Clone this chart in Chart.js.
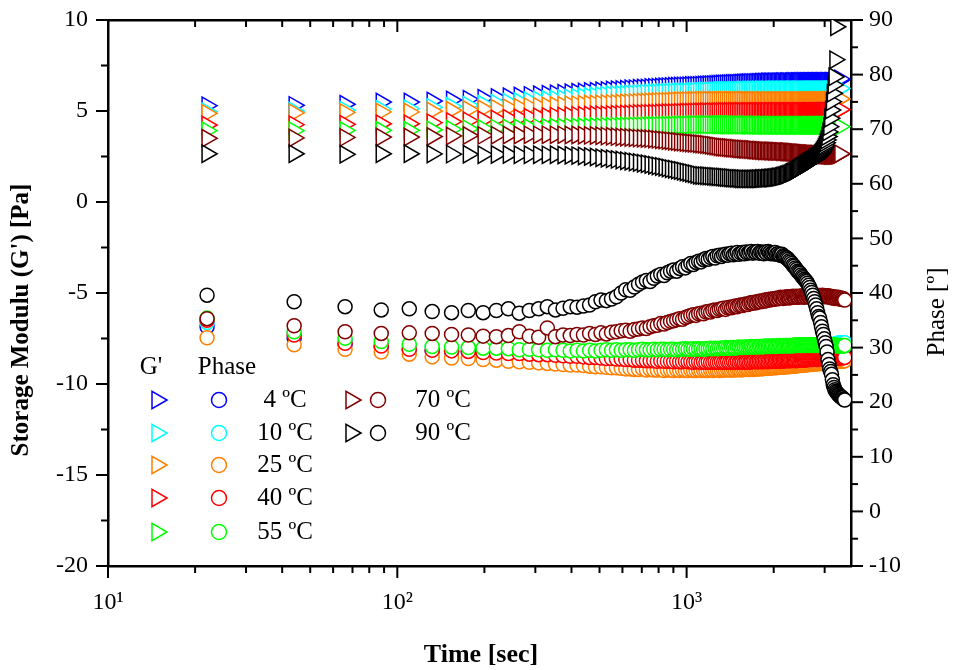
<!DOCTYPE html>
<html>
<head>
<meta charset="utf-8">
<script src="https://cdn.jsdelivr.net/npm/chart.js@4.4.1/dist/chart.umd.min.js"></script>
<style>
  html, body { margin: 0; padding: 0; background: #fff; }
  #wrap { width: 953px; height: 670px; }
</style>
</head>
<body>
<div id="wrap"><canvas id="c" width="953" height="670"></canvas></div>
<script>
// time of each measurement [sec]
var times = [22,44,66,88,110,132,154,176,198,220,
  242,264,286,308,330,352,374,396,418,440,
  462,484,506,528,550,572,594,616,638,660,
  682,704,726,748,770,792,814,836,858,880,
  902,924,946,968,990,1012,1034,1056,1078,1100,
  1122,1144,1166,1188,1210,1232,1254,1276,1298,1320,
  1342,1364,1386,1408,1430,1452,1474,1496,1518,1540,
  1562,1584,1606,1628,1650,1672,1694,1716,1738,1760,
  1782,1804,1826,1848,1870,1892,1914,1936,1958,1980,
  2002,2024,2046,2068,2090,2112,2134,2156,2178,2200,
  2222,2244,2266,2288,2310,2332,2354,2376,2398,2420,
  2442,2464,2486,2508,2530,2552,2574,2596,2618,2640,
  2662,2684,2706,2728,2750,2772,2794,2816,2838,2860,
  2882,2904,2926,2948,2970,2992,3014,3036,3058,3080,
  3102,3124,3146,3168,3190,3212,3234,3256,3278,3300,
  3322,3344,3366,3388,3410,3432,3454,3476,3498,3520];

var temps = ['4 ºC', '10 ºC', '25 ºC', '40 ºC', '55 ºC', '70 ºC', '90 ºC'];
var colors = ['#0000ff', '#00ffff', '#ff8000', '#ff0000', '#00ff00', '#800000', '#000000'];

// storage modulus G' [Pa]
var g4 = [5.29,5.31,5.37,5.49,5.49,5.55,5.60,5.65,5.70,5.74,
  5.78,5.82,5.86,5.89,5.92,5.95,5.98,6.00,6.03,6.05,
  6.07,6.09,6.11,6.13,6.15,6.17,6.18,6.20,6.22,6.23,
  6.25,6.26,6.27,6.29,6.30,6.31,6.32,6.33,6.34,6.35,
  6.36,6.36,6.37,6.38,6.38,6.39,6.40,6.40,6.41,6.41,
  6.42,6.43,6.43,6.44,6.45,6.45,6.46,6.47,6.47,6.48,
  6.49,6.49,6.50,6.50,6.51,6.51,6.52,6.52,6.53,6.53,
  6.54,6.54,6.55,6.55,6.55,6.56,6.56,6.56,6.57,6.57,
  6.57,6.58,6.58,6.58,6.58,6.59,6.59,6.59,6.59,6.60,
  6.60,6.60,6.60,6.60,6.61,6.60,6.61,6.61,6.60,6.61,
  6.61,6.61,6.60,6.61,6.61,6.62,6.61,6.61,6.62,6.61,
  6.61,6.62,6.61,6.62,6.62,6.61,6.62,6.62,6.61,6.62,
  6.62,6.62,6.61,6.62,6.62,6.62,6.61,6.62,6.62,6.62,
  6.61,6.62,6.62,6.62,6.62,6.61,6.62,6.62,6.62,6.62,
  6.61,6.62,6.62,6.62,6.62,6.61,6.62,6.63,6.62,6.63,
  6.64,6.66,6.70,6.76];
var g10 = [4.96,5.00,5.05,5.10,5.13,5.20,5.26,5.32,5.38,5.43,
  5.48,5.52,5.56,5.60,5.63,5.66,5.69,5.72,5.75,5.78,
  5.80,5.83,5.85,5.87,5.89,5.90,5.91,5.92,5.93,5.94,
  5.95,5.96,5.97,5.98,5.99,6.00,6.00,6.01,6.02,6.02,
  6.03,6.03,6.04,6.04,6.05,6.05,6.06,6.06,6.07,6.08,
  6.08,6.08,6.09,6.09,6.09,6.10,6.10,6.10,6.11,6.11,
  6.11,6.12,6.12,6.12,6.12,6.13,6.13,6.13,6.13,6.13,
  6.14,6.14,6.13,6.14,6.14,6.14,6.15,6.14,6.14,6.15,
  6.14,6.15,6.15,6.14,6.15,6.15,6.15,6.14,6.15,6.15,
  6.15,6.16,6.15,6.15,6.15,6.16,6.15,6.15,6.16,6.15,
  6.16,6.15,6.16,6.16,6.15,6.16,6.16,6.15,6.16,6.16,
  6.16,6.15,6.16,6.16,6.16,6.15,6.16,6.16,6.16,6.16,
  6.15,6.16,6.16,6.16,6.16,6.15,6.16,6.16,6.16,6.16,
  6.16,6.16,6.15,6.16,6.16,6.16,6.16,6.16,6.15,6.16,
  6.16,6.16,6.16,6.16,6.17,6.16,6.16,6.17,6.17,6.17,
  6.18,6.19,6.21,6.24];
var g25 = [4.87,4.90,4.92,4.95,4.95,5.00,5.04,5.08,5.12,5.15,
  5.18,5.21,5.24,5.26,5.28,5.30,5.32,5.34,5.35,5.37,
  5.38,5.39,5.40,5.41,5.42,5.43,5.44,5.45,5.46,5.47,
  5.48,5.49,5.50,5.51,5.51,5.52,5.53,5.53,5.54,5.54,
  5.55,5.55,5.56,5.56,5.57,5.57,5.57,5.58,5.58,5.58,
  5.58,5.59,5.58,5.59,5.58,5.59,5.59,5.58,5.59,5.58,
  5.59,5.58,5.58,5.59,5.58,5.58,5.59,5.58,5.58,5.58,
  5.59,5.58,5.58,5.57,5.58,5.58,5.57,5.58,5.57,5.58,
  5.57,5.57,5.58,5.57,5.57,5.57,5.58,5.57,5.57,5.57,
  5.57,5.56,5.57,5.57,5.57,5.56,5.57,5.57,5.56,5.57,
  5.57,5.56,5.57,5.56,5.57,5.57,5.56,5.57,5.56,5.57,
  5.57,5.56,5.57,5.57,5.56,5.57,5.57,5.56,5.57,5.57,
  5.56,5.57,5.57,5.57,5.56,5.57,5.57,5.57,5.56,5.57,
  5.57,5.57,5.57,5.56,5.57,5.57,5.57,5.57,5.57,5.58,
  5.57,5.58,5.58,5.57,5.58,5.58,5.58,5.59,5.59,5.60,
  5.61,5.62,5.64,5.67];
var g40 = [4.23,4.25,4.27,4.30,4.30,4.36,4.42,4.47,4.52,4.56,
  4.60,4.63,4.66,4.68,4.70,4.72,4.73,4.75,4.76,4.77,
  4.78,4.79,4.80,4.80,4.81,4.82,4.83,4.84,4.84,4.85,
  4.86,4.86,4.87,4.87,4.88,4.88,4.89,4.89,4.90,4.90,
  4.91,4.91,4.92,4.92,4.93,4.93,4.93,4.94,4.94,4.95,
  4.95,4.95,4.96,4.95,4.96,4.96,4.95,4.96,4.96,4.96,
  4.97,4.96,4.96,4.97,4.96,4.97,4.97,4.96,4.97,4.97,
  4.97,4.96,4.97,4.97,4.97,4.96,4.97,4.97,4.97,4.96,
  4.97,4.97,4.96,4.97,4.97,4.97,4.96,4.97,4.97,4.96,
  4.97,4.97,4.97,4.96,4.97,4.97,4.96,4.97,4.97,4.97,
  4.96,4.97,4.97,4.97,4.96,4.97,4.97,4.96,4.97,4.97,
  4.97,4.97,4.96,4.97,4.97,4.97,4.97,4.96,4.97,4.97,
  4.97,4.97,4.97,4.96,4.97,4.97,4.97,4.97,4.98,4.97,
  4.97,4.98,4.97,4.98,4.98,4.97,4.98,4.98,4.98,4.98,
  4.98,4.98,4.99,4.98,4.99,4.99,4.99,5.00,5.00,5.01,
  5.02,5.03,5.05,5.08];
var g55 = [3.92,3.92,3.93,3.94,3.94,3.97,4.00,4.02,4.04,4.06,
  4.07,4.08,4.09,4.10,4.11,4.12,4.12,4.13,4.13,4.14,
  4.14,4.15,4.15,4.16,4.16,4.17,4.17,4.18,4.18,4.19,
  4.19,4.19,4.20,4.20,4.20,4.21,4.21,4.21,4.22,4.22,
  4.22,4.22,4.23,4.23,4.23,4.23,4.24,4.24,4.24,4.25,
  4.24,4.25,4.24,4.25,4.24,4.24,4.25,4.24,4.24,4.25,
  4.24,4.24,4.23,4.24,4.24,4.23,4.24,4.23,4.24,4.23,
  4.23,4.24,4.23,4.23,4.22,4.23,4.23,4.22,4.23,4.22,
  4.22,4.23,4.22,4.22,4.22,4.21,4.22,4.22,4.21,4.22,
  4.21,4.22,4.21,4.21,4.22,4.21,4.21,4.21,4.22,4.21,
  4.21,4.21,4.22,4.21,4.21,4.21,4.21,4.22,4.21,4.21,
  4.21,4.21,4.21,4.22,4.21,4.21,4.21,4.21,4.21,4.22,
  4.21,4.21,4.21,4.21,4.21,4.22,4.21,4.21,4.21,4.21,
  4.21,4.21,4.22,4.21,4.21,4.21,4.21,4.21,4.21,4.21,
  4.21,4.21,4.21,4.20,4.21,4.20,4.20,4.19,4.19,4.18,
  4.17,4.16,4.15,4.14];
var g70 = [3.50,3.52,3.55,3.57,3.57,3.60,3.63,3.65,3.66,3.67,
  3.68,3.68,3.69,3.69,3.69,3.69,3.69,3.68,3.68,3.67,
  3.66,3.65,3.64,3.62,3.61,3.59,3.57,3.56,3.54,3.53,
  3.51,3.50,3.49,3.48,3.46,3.44,3.42,3.40,3.38,3.36,
  3.34,3.32,3.30,3.29,3.27,3.26,3.24,3.23,3.22,3.20,
  3.19,3.17,3.16,3.14,3.12,3.10,3.08,3.06,3.04,3.02,
  3.01,3.00,2.99,2.98,2.97,2.96,2.95,2.94,2.93,2.92,
  2.91,2.90,2.90,2.89,2.88,2.88,2.87,2.86,2.85,2.84,
  2.84,2.83,2.83,2.82,2.82,2.81,2.81,2.80,2.80,2.80,
  2.79,2.79,2.79,2.78,2.78,2.78,2.77,2.77,2.77,2.76,
  2.76,2.75,2.75,2.74,2.74,2.73,2.72,2.72,2.71,2.70,
  2.70,2.69,2.69,2.68,2.68,2.67,2.67,2.66,2.66,2.65,
  2.65,2.64,2.64,2.63,2.63,2.62,2.62,2.62,2.61,2.61,
  2.61,2.60,2.60,2.60,2.59,2.59,2.59,2.58,2.58,2.58,
  2.58,2.57,2.57,2.57,2.57,2.57,2.57,2.57,2.58,2.58,
  2.59,2.60,2.62,2.65];
var g90 = [2.65,2.65,2.62,2.65,2.65,2.64,2.63,2.62,2.60,2.61,
  2.61,2.60,2.60,2.60,2.59,2.60,2.58,2.57,2.55,2.53,
  2.50,2.47,2.43,2.40,2.38,2.34,2.31,2.27,2.24,2.20,
  2.17,2.13,2.10,2.06,2.02,1.98,1.95,1.91,1.87,1.83,
  1.80,1.76,1.73,1.69,1.65,1.62,1.58,1.55,1.51,1.47,
  1.46,1.45,1.44,1.43,1.42,1.41,1.40,1.39,1.38,1.37,
  1.36,1.35,1.34,1.33,1.32,1.31,1.30,1.30,1.29,1.28,
  1.28,1.27,1.27,1.27,1.27,1.27,1.27,1.27,1.28,1.28,
  1.28,1.29,1.29,1.30,1.30,1.31,1.31,1.32,1.32,1.33,
  1.34,1.35,1.36,1.37,1.38,1.40,1.42,1.44,1.46,1.48,
  1.50,1.53,1.56,1.59,1.62,1.65,1.68,1.72,1.76,1.80,
  1.84,1.88,1.92,1.96,2.00,2.04,2.08,2.12,2.16,2.20,
  2.22,2.25,2.28,2.31,2.35,2.39,2.43,2.48,2.53,2.59,
  2.65,2.72,2.80,2.89,2.99,3.10,3.25,3.41,3.60,3.85,
  4.14,4.60,5.05,5.51,5.97,6.43,6.88,7.82,9.63];

// phase angle [deg]
var p4 = [33.8,31.7,30.6,30.1,29.6,29.4,29.3,29.2,29.0,28.9,
  28.8,28.8,28.7,28.6,28.6,28.5,28.4,28.3,28.3,28.2,
  28.1,28.1,28.0,27.9,27.9,27.8,27.8,27.7,27.7,27.6,
  27.6,27.6,27.5,27.5,27.5,27.4,27.5,27.4,27.4,27.4,
  27.3,27.4,27.3,27.3,27.4,27.3,27.3,27.2,27.3,27.3,
  27.2,27.3,27.2,27.3,27.2,27.2,27.3,27.2,27.2,27.3,
  27.2,27.2,27.3,27.2,27.2,27.3,27.2,27.3,27.2,27.3,
  27.3,27.2,27.3,27.3,27.2,27.3,27.3,27.4,27.3,27.3,
  27.4,27.3,27.4,27.3,27.4,27.4,27.3,27.4,27.4,27.5,
  27.4,27.4,27.5,27.4,27.5,27.5,27.4,27.5,27.5,27.6,
  27.5,27.5,27.6,27.5,27.6,27.6,27.6,27.5,27.6,27.7,
  27.6,27.6,27.7,27.6,27.7,27.7,27.6,27.7,27.7,27.8,
  27.7,27.7,27.8,27.7,27.8,27.8,27.8,27.7,27.8,27.9,
  27.8,27.8,27.9,27.8,27.9,27.9,27.8,27.9,27.9,28.0,
  27.9,27.9,28.0,27.9,28.0,28.0,27.9,28.0,28.0,28.1,
  28.0,28.0,28.1,28.0,28.1,28.1,28.0,28.1,28.1,28.1];
var p10 = [34.6,32.5,31.3,30.8,30.3,30.0,29.9,29.8,29.7,29.7,
  29.6,29.5,29.5,29.4,29.4,29.4,29.3,29.3,29.3,29.2,
  29.3,29.2,29.3,29.3,29.3,29.4,29.3,29.4,29.4,29.3,
  29.4,29.5,29.4,29.4,29.5,29.4,29.5,29.5,29.4,29.5,
  29.5,29.4,29.5,29.5,29.6,29.5,29.5,29.6,29.5,29.6,
  29.6,29.5,29.6,29.6,29.7,29.6,29.7,29.6,29.7,29.7,
  29.7,29.8,29.7,29.7,29.8,29.8,29.7,29.8,29.9,29.8,
  29.8,29.9,29.8,29.9,29.9,30.0,29.9,29.9,30.0,29.9,
  30.0,30.0,29.9,30.0,30.1,30.0,30.0,30.1,30.0,30.1,
  30.1,30.0,30.1,30.1,30.2,30.1,30.1,30.2,30.1,30.2,
  30.2,30.1,30.2,30.2,30.1,30.2,30.2,30.3,30.2,30.2,
  30.3,30.2,30.2,30.3,30.2,30.3,30.2,30.3,30.3,30.2,
  30.3,30.3,30.2,30.3,30.3,30.2,30.3,30.3,30.2,30.3,
  30.3,30.2,30.3,30.3,30.2,30.3,30.3,30.2,30.3,30.2,
  30.3,30.3,30.4,30.4,30.5,30.5,30.6,30.6,30.7,30.7,
  30.8,30.8,30.8,30.9,30.8,30.9,30.8,30.9,30.8,30.9];
var p25 = [31.8,30.5,29.7,29.2,28.8,28.3,28.1,28.0,27.8,27.7,
  27.5,27.4,27.3,27.2,27.1,27.0,26.9,26.8,26.8,26.7,
  26.6,26.5,26.5,26.4,26.3,26.3,26.2,26.1,26.1,26.0,
  26.0,26.1,25.9,26.0,25.9,25.9,26.0,25.8,25.9,25.9,
  25.8,25.9,25.8,25.9,25.8,25.8,25.9,25.8,25.8,25.9,
  25.8,25.9,25.8,25.8,25.9,25.8,25.9,25.9,25.8,25.9,
  25.9,25.9,26.0,25.9,25.9,26.0,25.9,26.0,26.0,25.9,
  26.0,26.0,26.1,26.0,26.0,26.1,26.0,26.1,26.1,26.1,
  26.1,26.2,26.1,26.2,26.2,26.2,26.3,26.2,26.3,26.3,
  26.3,26.4,26.3,26.4,26.4,26.4,26.5,26.4,26.5,26.5,
  26.5,26.6,26.5,26.6,26.6,26.6,26.7,26.6,26.7,26.7,
  26.7,26.8,26.7,26.8,26.8,26.8,26.9,26.8,26.9,26.9,
  26.9,27.0,26.9,27.0,27.0,27.0,27.1,27.0,27.1,27.1,
  27.1,27.1,27.2,27.1,27.2,27.2,27.2,27.3,27.2,27.3,
  27.3,27.3,27.3,27.4,27.3,27.4,27.4,27.4,27.4,27.5,
  27.4,27.5,27.5,27.5,27.5,27.6,27.5,27.6,27.6,27.6];
var p40 = [35.0,32.3,30.8,30.3,29.7,29.5,29.4,29.3,29.1,29.0,
  28.9,28.9,28.8,28.7,28.7,28.6,28.5,28.4,28.4,28.3,
  28.2,28.2,28.1,28.0,28.0,27.9,27.9,27.8,27.8,27.7,
  27.7,27.7,27.6,27.6,27.6,27.5,27.6,27.5,27.5,27.5,
  27.4,27.5,27.4,27.4,27.5,27.4,27.4,27.3,27.4,27.4,
  27.3,27.4,27.3,27.4,27.3,27.3,27.4,27.3,27.3,27.4,
  27.3,27.3,27.4,27.3,27.3,27.4,27.3,27.4,27.3,27.4,
  27.4,27.3,27.4,27.4,27.3,27.4,27.4,27.5,27.4,27.4,
  27.5,27.4,27.5,27.4,27.5,27.5,27.4,27.5,27.5,27.6,
  27.5,27.5,27.6,27.5,27.6,27.6,27.5,27.6,27.6,27.7,
  27.6,27.6,27.7,27.6,27.7,27.7,27.7,27.6,27.7,27.8,
  27.7,27.7,27.8,27.7,27.8,27.8,27.7,27.8,27.8,27.9,
  27.8,27.8,27.9,27.8,27.9,27.9,27.9,27.8,27.9,28.0,
  27.9,27.9,28.0,27.9,28.0,28.0,27.9,28.0,28.0,28.1,
  28.0,28.0,28.1,28.0,28.1,28.1,28.0,28.1,28.1,28.2,
  28.1,28.1,28.2,28.1,28.2,28.2,28.1,28.2,28.2,28.2];
var p55 = [35.4,32.9,31.7,31.1,30.6,30.2,30.1,30.0,29.9,29.9,
  29.8,29.6,29.7,29.6,29.5,29.6,29.5,29.4,29.5,29.4,
  29.5,29.4,29.5,29.6,29.5,29.6,29.5,29.6,29.6,29.5,
  29.6,29.7,29.6,29.6,29.7,29.6,29.7,29.7,29.6,29.7,
  29.7,29.6,29.7,29.7,29.8,29.7,29.7,29.8,29.7,29.8,
  29.8,29.7,29.8,29.8,29.9,29.8,29.9,29.8,29.9,29.9,
  29.9,30.0,29.9,29.9,30.0,30.0,29.9,30.0,30.1,30.0,
  30.0,30.1,30.0,30.1,30.1,30.2,30.1,30.1,30.2,30.1,
  30.2,30.2,30.1,30.2,30.3,30.2,30.2,30.3,30.2,30.3,
  30.3,30.2,30.3,30.3,30.4,30.3,30.3,30.4,30.3,30.4,
  30.4,30.3,30.4,30.4,30.3,30.4,30.4,30.5,30.4,30.4,
  30.5,30.4,30.4,30.5,30.4,30.5,30.4,30.5,30.5,30.4,
  30.5,30.5,30.4,30.5,30.5,30.4,30.5,30.5,30.4,30.5,
  30.5,30.4,30.5,30.5,30.4,30.5,30.5,30.4,30.5,30.4,
  30.5,30.4,30.4,30.5,30.4,30.4,30.5,30.4,30.4,30.4,
  30.4,30.3,30.4,30.4,30.3,30.4,30.3,30.4,30.3,30.4];
var p70 = [35.3,34.0,32.9,32.6,32.7,32.6,32.4,32.3,32.1,32.0,
  32.2,32.9,32.1,31.9,33.6,32.0,32.3,32.2,32.4,32.3,
  32.6,32.4,32.7,32.5,32.8,32.9,33.1,33.2,33.0,33.3,
  33.4,33.6,33.5,33.8,34.0,34.1,34.4,34.3,34.6,34.8,
  34.9,35.1,35.3,35.2,35.5,35.7,35.9,36.0,35.9,36.2,
  36.3,36.2,36.5,36.6,36.5,36.8,36.9,36.8,37.0,37.1,
  37.2,37.0,37.3,37.4,37.3,37.5,37.6,37.5,37.7,37.8,
  37.7,37.9,38.0,37.9,38.1,38.2,38.1,38.3,38.2,38.4,
  38.5,38.4,38.6,38.5,38.7,38.6,38.8,38.7,38.9,38.8,
  38.9,39.0,38.9,39.1,39.0,39.2,39.1,39.0,39.2,39.1,
  39.3,39.2,39.1,39.3,39.2,39.4,39.3,39.2,39.4,39.3,
  39.2,39.4,39.3,39.5,39.3,39.2,39.4,39.3,39.5,39.4,
  39.3,39.5,39.4,39.2,39.4,39.5,39.3,39.4,39.6,39.4,
  39.3,39.5,39.4,39.6,39.4,39.3,39.5,39.4,39.3,39.5,
  39.4,39.2,39.4,39.3,39.1,39.3,39.2,39.0,39.2,39.1,
  39.0,39.2,39.0,38.9,39.1,38.9,38.8,39.0,38.8,38.7];
var p90 = [39.6,38.4,37.5,36.9,37.1,36.6,36.4,36.8,36.4,36.8,
  37.1,36.3,36.8,37.1,37.5,36.9,37.2,37.5,37.4,37.6,
  37.8,38.4,38.7,38.6,38.9,39.3,40.0,40.6,40.5,41.1,
  41.6,42.0,42.3,42.1,42.7,43.1,43.4,43.2,43.7,44.0,
  44.2,44.0,44.5,44.8,44.6,45.1,45.4,45.2,45.6,45.8,
  45.7,46.1,46.3,46.2,46.5,46.7,46.4,46.8,46.9,46.7,
  47.0,47.1,46.9,47.2,47.3,47.0,47.2,47.4,47.1,47.3,
  47.4,47.2,47.5,47.3,47.4,47.6,47.3,47.5,47.4,47.6,
  47.3,47.5,47.4,47.2,47.5,47.3,47.6,47.4,47.2,47.3,
  47.2,47.4,47.1,47.2,47.0,46.9,47.1,46.8,46.7,46.5,
  46.4,46.2,45.9,45.7,45.4,45.1,44.9,44.6,44.3,44.0,
  43.8,43.6,43.3,43.0,42.8,42.5,42.3,42.1,41.8,41.4,
  41.0,40.5,40.1,39.6,39.0,38.4,37.8,37.1,36.4,35.7,
  35.4,34.6,33.8,33.0,32.4,31.6,30.9,30.2,29.2,27.8,
  26.9,26.1,25.6,25.1,24.1,23.2,22.7,22.3,22.0,21.8,
  21.6,21.4,21.3,21.1,21.0,20.9,20.8,20.6,20.5,20.4];

var gSeries = [g4, g10, g25, g40, g55, g70, g90];
var pSeries = [p4, p10, p25, p40, p55, p70, p90];

// axis ticks
var xMajor = [10, 100, 1000];
var xLabels = ['10¹', '10²', '10³'];
var xMinor = [20, 30, 40, 50, 60, 70, 80, 90, 200, 300, 400, 500, 600, 700, 800, 900, 2000, 3000];
var yMajor = [-20, -15, -10, -5, 0, 5, 10];
var yMinor = [-17.5, -12.5, -7.5, -2.5, 2.5, 7.5];
var y2Major = [-10, 0, 10, 20, 30, 40, 50, 60, 70, 80, 90];
var y2Minor = [-5, 5, 15, 25, 35, 45, 55, 65, 75, 85];

var serif = "'Liberation Serif', 'Times New Roman', serif";
Chart.defaults.font.family = serif;
Chart.defaults.color = '#000';

var datasets = [];
gSeries.forEach(function (vals, i) {
  datasets.push({
    label: "G' " + temps[i],
    data: vals.map(function (v, k) { return { x: times[k], y: v }; }),
    xAxisID: 'x', yAxisID: 'y',
    pointStyle: 'triangle', pointRotation: 90, pointRadius: 10,
    pointBorderColor: colors[i], pointBackgroundColor: '#fff', pointBorderWidth: 1.5,
    borderColor: colors[i], backgroundColor: '#fff',
    order: 20 - i
  });
});
pSeries.forEach(function (vals, i) {
  datasets.push({
    label: 'Phase ' + temps[i],
    data: vals.map(function (v, k) { return { x: times[k], y: v }; }),
    xAxisID: 'x', yAxisID: 'y2',
    pointStyle: 'circle', pointRadius: 7,
    pointBorderColor: colors[i], pointBackgroundColor: '#fff', pointBorderWidth: 1.5,
    borderColor: colors[i], backgroundColor: '#fff',
    order: 10 - i
  });
});

function tri(ctx, x, y, r) {
  ctx.beginPath();
  ctx.moveTo(x + r, y);
  ctx.lineTo(x - r / 2, y + r * 0.866);
  ctx.lineTo(x - r / 2, y - r * 0.866);
  ctx.closePath();
  ctx.fill(); ctx.stroke();
}
function circ(ctx, x, y, r) {
  ctx.beginPath();
  ctx.arc(x, y, r, 0, Math.PI * 2);
  ctx.fill(); ctx.stroke();
}

var decor = {
  id: 'decor',
  afterDraw: function (chart) {
    var ctx = chart.ctx, a = chart.chartArea;
    var sx = chart.scales.x, sy = chart.scales.y, sy2 = chart.scales.y2;
    ctx.save();
    ctx.strokeStyle = '#000';
    ctx.lineWidth = 2;
    function seg(x1, y1, x2, y2) { ctx.beginPath(); ctx.moveTo(x1, y1); ctx.lineTo(x2, y2); ctx.stroke(); }
    xMajor.forEach(function (v) {
      var p = sx.getPixelForValue(v);
      seg(p, a.bottom, p, a.bottom + 12); seg(p, a.top, p, a.top + 12);
    });
    xMinor.forEach(function (v) {
      var p = sx.getPixelForValue(v);
      seg(p, a.bottom, p, a.bottom + 7); seg(p, a.top, p, a.top + 7);
    });
    yMajor.forEach(function (v) { var p = sy.getPixelForValue(v); seg(a.left - 12, p, a.left, p); });
    yMinor.forEach(function (v) { var p = sy.getPixelForValue(v); seg(a.left - 7, p, a.left, p); });
    y2Major.forEach(function (v) { var p = sy2.getPixelForValue(v); seg(a.right, p, a.right + 12, p); });
    y2Minor.forEach(function (v) { var p = sy2.getPixelForValue(v); seg(a.right, p, a.right + 7, p); });

    // axis titles
    ctx.fillStyle = '#000';
    ctx.textAlign = 'center';
    ctx.textBaseline = 'middle';
    ctx.save();
    ctx.translate(22, 320); ctx.rotate(-Math.PI / 2);
    ctx.font = 'bold 25px ' + serif;
    ctx.fillText("Storage Modulu (G') [Pa]", 0, 0);
    ctx.restore();
    ctx.save();
    ctx.translate(937, 312); ctx.rotate(-Math.PI / 2);
    ctx.font = '25px ' + serif;
    ctx.fillText('Phase [º]', 0, 0);
    ctx.restore();
    ctx.font = 'bold 26px ' + serif;
    ctx.fillText('Time [sec]', 481, 655);

    // legend
    ctx.font = '25px ' + serif;
    ctx.fillText("G'", 151, 367);
    ctx.fillText('Phase', 227, 367);
    var rows = [400, 433, 465, 498, 532];
    ctx.lineWidth = 1.5;
    temps.forEach(function (t, i) {
      var col = i < 5 ? 0 : 1;
      var y = rows[col ? i - 5 : i];
      var tx = col ? 351 : 157, cx = col ? 378 : 219, lx = col ? 443 : 285;
      ctx.strokeStyle = colors[i];
      ctx.fillStyle = '#fff';
      tri(ctx, tx, y, 10);
      circ(ctx, cx, y, 7.5);
      ctx.fillStyle = '#000';
      ctx.fillText(t, lx, y);
    });
    ctx.restore();
  }
};

var tickFont = { family: serif, size: 24 };
// invisible tick marks only push the labels away from the axis line
function hiddenGrid(len) {
  return { display: true, drawOnChartArea: false, drawTicks: true, tickLength: len, tickColor: 'rgba(0,0,0,0)' };
}

new Chart(document.getElementById('c'), {
  type: 'scatter',
  data: { datasets: datasets },
  options: {
    responsive: false,
    animation: false,
    devicePixelRatio: 1,
    events: [],
    layout: { padding: 0 },
    plugins: { legend: { display: false }, tooltip: { enabled: false } },
    scales: {
      x: {
        type: 'logarithmic', position: 'bottom', min: 10, max: 3700,
        grid: hiddenGrid(22),
        border: { display: true, width: 2.5, color: '#000' },
        ticks: {
          font: tickFont, color: '#000', padding: 0, maxRotation: 0, autoSkip: false,
          callback: function (v) { var i = xMajor.indexOf(v); return i < 0 ? '' : xLabels[i]; }
        },
        afterBuildTicks: function (s) { s.ticks = xMajor.map(function (v) { return { value: v }; }); },
        afterFit: function (s) { s.height = 104; }
      },
      x2: {
        type: 'logarithmic', position: 'top', min: 10, max: 3700,
        grid: { display: false, drawTicks: false },
        border: { display: true, width: 2.5, color: '#000' },
        ticks: { display: false },
        afterFit: function (s) { s.height = 20; }
      },
      y: {
        position: 'left', min: -20, max: 10,
        grid: hiddenGrid(20),
        border: { display: true, width: 2.5, color: '#000' },
        ticks: { font: tickFont, color: '#000', padding: 0, stepSize: 5 },
        afterBuildTicks: function (s) { s.ticks = yMajor.map(function (v) { return { value: v }; }); },
        afterFit: function (s) { s.width = 108; }
      },
      y2: {
        position: 'right', min: -10, max: 90,
        grid: hiddenGrid(18),
        border: { display: true, width: 2.5, color: '#000' },
        ticks: { font: tickFont, color: '#000', padding: 0, stepSize: 10 },
        afterBuildTicks: function (s) { s.ticks = y2Major.map(function (v) { return { value: v }; }); },
        afterFit: function (s) { s.width = 102; }
      }
    }
  },
  plugins: [decor]
});
</script>
</body>
</html>
